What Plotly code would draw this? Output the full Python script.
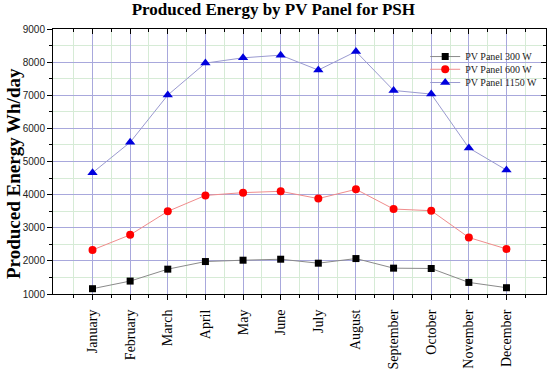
import plotly.graph_objects as go

months = ["January", "February", "March", "April", "May", "June", "July",
          "August", "September", "October", "November", "December"]
pv300 = [1160, 1390, 1750, 1980, 2020, 2050, 1930, 2070, 1780, 1770, 1350, 1190]
pv600 = [2330, 2785, 3495, 3975, 4060, 4100, 3880, 4160, 3565, 3515, 2705, 2360]
pv1150 = [4660, 5580, 7005, 7970, 8130, 8210, 7760, 8320, 7145, 7035, 5410, 4740]

x = list(range(len(months)))
serif = "Liberation Serif, Times New Roman, serif"

fig = go.Figure()
fig.add_trace(go.Scatter(x=x, y=pv300, name="PV Panel 300 W", mode="lines+markers",
                         line=dict(color="#8a8a8a", width=1), legend="legend",
                         marker=dict(symbol="square", size=7, color="black")))
fig.add_trace(go.Scatter(x=x, y=pv600, name="PV Panel 600 W", mode="lines+markers",
                         line=dict(color="#f08c8c", width=1), legend="legend2",
                         marker=dict(symbol="circle", size=8, color="#ff0000")))
fig.add_trace(go.Scatter(x=x, y=pv1150, name="PV Panel 1150 W", mode="lines+markers",
                         line=dict(color="#9a9ad0", width=1), legend="legend3",
                         marker=dict(symbol="triangle-up", size=9, color="#0000dd")))
# invisible trace to activate mirrored axes
fig.add_trace(go.Scatter(x=[x[0]], y=[pv300[0]], xaxis="x2", yaxis="y2", mode="markers",
                         marker=dict(opacity=0), showlegend=False, hoverinfo="skip"))

xr = [-1.05, 12.05]
yr = [1000, 9000]
half = [i - 0.5 for i in range(len(months) + 1)]

leg_common = dict(xanchor="left", yanchor="middle", bgcolor="rgba(0,0,0,0)",
                  font=dict(family=serif, size=10, color="#222"), itemwidth=30)

fig.update_layout(
    width=550, height=380,
    margin=dict(l=53, r=4, t=29, b=86, autoexpand=False),
    paper_bgcolor="white", plot_bgcolor="white",
    title=dict(text="<b>Produced Energy by PV Panel for PSH</b>", x=0.497, xanchor="center",
               y=1, yanchor="top", pad=dict(t=3), automargin=False,
               font=dict(family=serif, size=17, color="black")),
    xaxis=dict(range=xr, tickmode="array", tickvals=x, ticktext=months, tickangle=-90,
               tickfont=dict(family=serif, size=14, color="black"), automargin=False,
               showgrid=True, gridcolor="#a8a8dc", gridwidth=1,
               ticks="outside", ticklen=5, tickcolor="black", ticklabelstandoff=4,
               showline=True, linecolor="black", linewidth=1, zeroline=False,
               minor=dict(tickmode="array", tickvals=half, ticks="outside", ticklen=3,
                          tickcolor="black", showgrid=True, gridcolor="#d6ebd6", gridwidth=1)),
    yaxis=dict(range=yr, dtick=1000, tick0=1000, automargin=False,
               tickfont=dict(family="Liberation Sans, Arial, sans-serif", size=10, color="#222"),
               showgrid=True, gridcolor="#a8a8dc", gridwidth=1,
               ticks="outside", ticklen=5, tickcolor="black",
               showline=True, linecolor="black", linewidth=1, zeroline=False,
               minor=dict(dtick=500, ticks="outside", ticklen=3, tickcolor="black",
                          showgrid=True, gridcolor="#d6ebd6", gridwidth=1)),
    xaxis2=dict(range=xr, overlaying="x", side="top", showticklabels=False, automargin=False,
                tickmode="array", tickvals=x, ticks="inside", ticklen=5, tickcolor="black",
                showgrid=False, showline=True, linecolor="black", zeroline=False,
                minor=dict(tickmode="array", tickvals=half, ticks="inside", ticklen=3,
                           tickcolor="black", showgrid=False)),
    yaxis2=dict(range=yr, overlaying="y", side="right", showticklabels=False, automargin=False,
                dtick=1000, tick0=1000, ticks="inside", ticklen=5, tickcolor="black",
                showgrid=False, showline=True, linecolor="black", zeroline=False,
                minor=dict(dtick=500, ticks="inside", ticklen=3, tickcolor="black",
                           showgrid=False)),
    legend=dict(x=0.755, y=0.896, **leg_common),
    legend2=dict(x=0.755, y=0.848, **leg_common),
    legend3=dict(x=0.755, y=0.798, **leg_common),
    showlegend=True,
)
fig.add_annotation(text="<b>Produced Energy Wh/day</b>", textangle=-90, xref="paper", yref="paper",
                   x=-0.08, y=0.455, xanchor="center", yanchor="middle", showarrow=False,
                   font=dict(family=serif, size=19, color="black"))

fig.write_html("out.html", config={"displayModeBar": False},
               post_script="document.body.style.margin='0';document.body.style.padding='0';")
